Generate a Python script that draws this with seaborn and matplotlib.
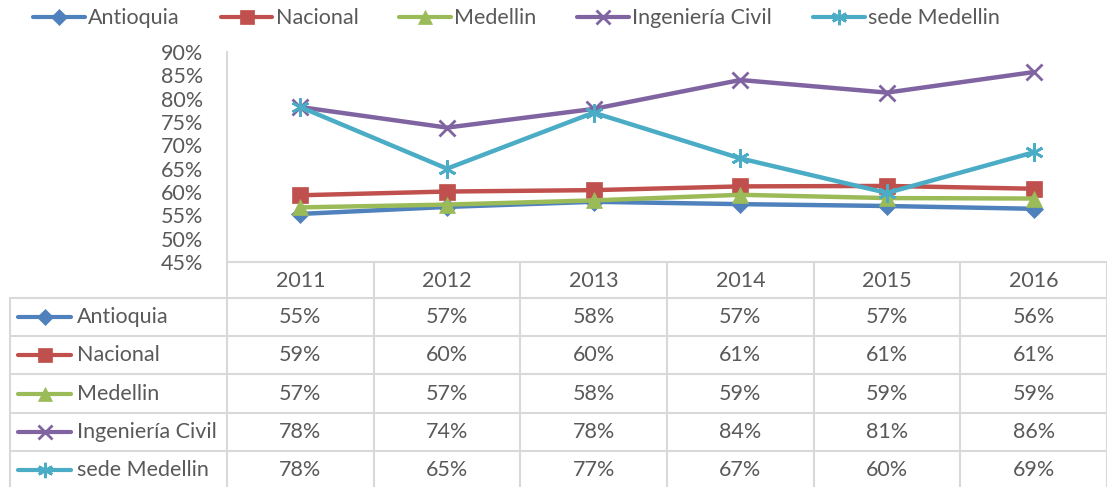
import matplotlib
matplotlib.use("Agg")
import matplotlib.pyplot as plt
from matplotlib.lines import Line2D
import seaborn as sns
import pandas as pd

years = ["2011", "2012", "2013", "2014", "2015", "2016"]
series_names = ["Antioquia", "Nacional", "Medellin", "Ingeniería Civil", "sede Medellin"]
antioquia = [55.3, 56.8, 57.9, 57.4, 57.0, 56.4]
nacional = [59.3, 60.1, 60.4, 61.2, 61.3, 60.7]
medellin = [56.7, 57.3, 58.2, 59.4, 58.7, 58.6]
ing_civil = [78.2, 73.8, 77.8, 84.0, 81.3, 85.7]
sede_medellin = [78.2, 65.0, 77.0, 67.2, 59.8, 68.5]
table_labels = [
    ["55%", "57%", "58%", "57%", "57%", "56%"],
    ["59%", "60%", "60%", "61%", "61%", "61%"],
    ["57%", "57%", "58%", "59%", "59%", "59%"],
    ["78%", "74%", "78%", "84%", "81%", "86%"],
    ["78%", "65%", "77%", "67%", "60%", "69%"],
]
yticks = [45, 50, 55, 60, 65, 70, 75, 80, 85, 90]

all_values = [antioquia, nacional, medellin, ing_civil, sede_medellin]
colors = ["#4F81BD", "#C0504D", "#9BBB59", "#8064A2", "#4BACC6"]
markers = ["D", "s", "^", "x", (6, 2, 0)]
msizes = [9, 12, 12, 12, 13]

sns.set_theme(style="white")
plt.rcParams["font.family"] = ["Lato", "DejaVu Sans"]
txt = "#595959"
grid = "#d9d9d9"
FS = 15.5

W, H = 1107, 487
fig = plt.figure(figsize=(W / 100, H / 100), dpi=100)

x0, x1, ytop, ybot = 227, 1107, 52, 262
ax = fig.add_axes([x0 / W, 1 - ybot / H, (x1 - x0) / W, (ybot - ytop) / H])

rows = []
for name, vals in zip(series_names, all_values):
    for i, v in enumerate(vals):
        rows.append({"serie": name, "idx": i, "val": v})
df = pd.DataFrame(rows)

def mew(m):
    return 2 if m in ("x", (6, 2, 0)) else 0.5

handles = []
for name, c, m, ms in zip(series_names, colors, markers, msizes):
    sub = df[df["serie"] == name]
    sns.lineplot(data=sub, x="idx", y="val", ax=ax, color=c, linewidth=3.2,
                 marker=m, markersize=ms, markeredgecolor=c, markerfacecolor=c,
                 markeredgewidth=mew(m), legend=False)
    handles.append(Line2D([], [], color=c, linewidth=3, marker=m, markersize=ms * 0.85,
                          markeredgecolor=c, markerfacecolor=c, markeredgewidth=mew(m)))

ax.set_xlim(-0.5, 5.5)
ax.set_ylim(45, 90)
ax.set_yticks(yticks)
ax.set_yticklabels([f"{t}%" for t in yticks], color=txt, fontsize=FS)
ax.set_xticks([])
ax.set_xlabel("")
ax.set_ylabel("")
ax.tick_params(axis="y", length=0, pad=17)
for s in ["top", "right", "bottom"]:
    ax.spines[s].set_visible(False)
ax.spines["left"].set_color(grid)
ax.spines["left"].set_linewidth(1.5)
ax.patch.set_alpha(0)

# table overlay in pixel coordinates
tax = fig.add_axes([0, 0, 1, 1])
tax.set_xlim(0, W)
tax.set_ylim(H, 0)
tax.axis("off")
tax.patch.set_alpha(0)

col_w = (x1 - x0) / 6
col_edges = [x0 + i * col_w for i in range(7)]
row_edges = [262, 298, 336, 374, 413, 451, 489]
lw = 1.5
tax.plot([x0, x1], [row_edges[0], row_edges[0]], color=grid, lw=lw)
for y in row_edges[1:]:
    tax.plot([10, x1], [y, y], color=grid, lw=lw)
for x in col_edges:
    tax.plot([x, x], [row_edges[0], H], color=grid, lw=lw)
tax.plot([10, 10], [row_edges[1], H], color=grid, lw=lw)

for i, yr in enumerate(years):
    tax.text(col_edges[i] + col_w / 2, (row_edges[0] + row_edges[1]) / 2 + 1, yr,
             ha="center", va="center", color=txt, fontsize=FS)
for r, (name, c, m, ms) in enumerate(zip(series_names, colors, markers, msizes)):
    yc = (row_edges[r + 1] + row_edges[r + 2]) / 2
    tax.plot([18, 71], [yc, yc], color=c, lw=3)
    tax.plot([44.5], [yc], marker=m, color=c, markersize=ms * 0.85, markeredgecolor=c,
             markeredgewidth=mew(m))
    tax.text(77, yc, name, ha="left", va="center", color=txt, fontsize=FS)
    for i in range(6):
        tax.text(col_edges[i] + col_w / 2, yc, table_labels[r][i],
                 ha="center", va="center", color=txt, fontsize=FS)

leg = fig.legend(handles, series_names, loc="upper center", bbox_to_anchor=(0.4666, 1.01),
                 ncol=5, frameon=False, fontsize=FS, handlelength=2.4, handletextpad=0.15,
                 columnspacing=1.9, labelcolor=txt, borderaxespad=0.2)

fig.savefig("out.png", dpi=100, facecolor="white")
